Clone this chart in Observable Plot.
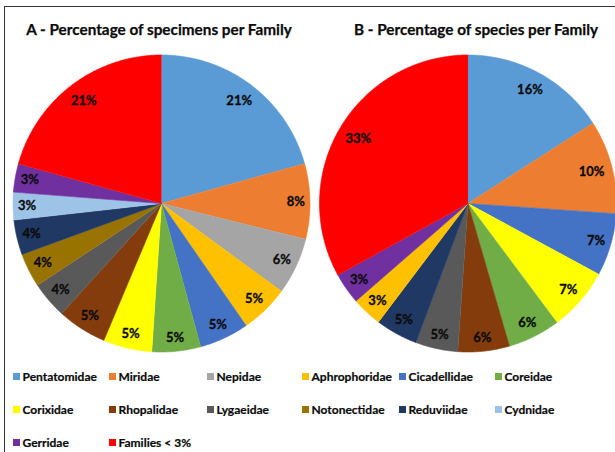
<!DOCTYPE html>
<html><head><meta charset="utf-8">
<script src="https://cdn.jsdelivr.net/npm/d3@7"></script>
<script src="https://cdn.jsdelivr.net/npm/@observablehq/plot@0.6"></script>
<style>
body{margin:0;background:#fff;font-family:Lato,"Open Sans",sans-serif;width:615px;height:452px;overflow:hidden;position:relative}
#frame{position:absolute;left:4px;top:6px;width:640px;height:470px;border-top:1.5px solid #333;border-left:1.5px solid #333;}
.title{position:absolute;top:20px;font-weight:bold;font-size:15.3px;line-height:19px;color:#0a0a0a;white-space:nowrap;transform:translateX(-50%);-webkit-text-stroke:0.25px #0a0a0a}
#chart{position:absolute;left:0;top:45px}
#legend{position:absolute;left:13px;top:369px;display:grid;grid-template-columns:96px 98px 95px 97px 96px 100px;grid-auto-rows:33px;}
.item{display:flex;align-items:center;height:14px;font-weight:bold;font-size:12px;color:#0a0a0a;white-space:nowrap;-webkit-text-stroke:0.2px #0a0a0a}
.sw{width:7px;height:7px;margin-right:2.5px;flex:none}
</style></head><body>
<div id="frame"></div>
<div id="tA" class="title" style="left:159px"></div>
<div id="tB" class="title" style="left:476px"></div>
<div id="chart"></div>
<div id="legend"></div>
<script>
const families = ["Pentatomidae","Miridae","Nepidae","Aphrophoridae","Cicadellidae","Coreidae","Corixidae","Rhopalidae","Lygaeidae","Notonectidae","Reduviidae","Cydnidae","Gerridae","Families < 3%"];
const colors = ["#5B9BD5","#ED7D31","#A5A5A5","#FFC000","#4472C4","#70AD47","#FFFF00","#843C0C","#595959","#997300","#203864","#9DC3E6","#7030A0","#FF0000"];
const specimenFamilies = ["Pentatomidae","Miridae","Nepidae","Aphrophoridae","Cicadellidae","Coreidae","Corixidae","Rhopalidae","Lygaeidae","Notonectidae","Reduviidae","Cydnidae","Gerridae","Families < 3%"];
const specimenPct = [20.7,8.2,6.2,5.3,5.4,5.3,5.3,5.4,4.0,3.7,3.8,3.0,3.1,20.7];
const speciesFamilies = ["Pentatomidae","Miridae","Cicadellidae","Corixidae","Coreidae","Rhopalidae","Lygaeidae","Reduviidae","Aphrophoridae","Gerridae","Families < 3%"];
const speciesPct = [15.9,10.2,6.8,6.9,5.7,5.6,4.6,4.6,3.3,3.4,33.0];
const titles = ["A - Percentage of specimens per Family","B - Percentage of species per Family"];

document.getElementById("tA").textContent = titles[0];
document.getElementById("tB").textContent = titles[1];

const W = 615, H = 315, R = 148.5, CY = 158;
const centers = [161, 467.5];
const pts = [], labels = [];
function addPie(fams, vals, cx, id) {
  const arcs = d3.pie().sort(null).value(d => d)(vals);
  arcs.forEach((a, i) => {
    const key = id + i, family = fams[i];
    pts.push({x: cx, y: CY, key, family});
    const n = Math.max(2, Math.ceil((a.endAngle - a.startAngle) / 0.01));
    for (let k = 0; k <= n; k++) {
      const t = a.startAngle + (a.endAngle - a.startAngle) * k / n;
      pts.push({x: cx + R * Math.sin(t), y: CY - R * Math.cos(t), key, family});
    }
    const mid = (a.startAngle + a.endAngle) / 2;
    const text = Math.round(vals[i]) + "%";
    const long = text.length >= 3;
    const off = 8 + (long ? 2 : 0) + (long ? 10 : 6) * Math.abs(Math.sin(mid)) + 5 * Math.abs(Math.cos(mid));
    const rl = R - off;
    labels.push({x: cx + rl * Math.sin(mid), y: CY - rl * Math.cos(mid), text});
  });
}
addPie(specimenFamilies, specimenPct, centers[0], "A");
addPie(speciesFamilies, speciesPct, centers[1], "B");

const chart = Plot.plot({
  width: W, height: H, margin: 0,
  style: {background: "transparent", fontFamily: "Lato, sans-serif"},
  x: {domain: [0, W], range: [0, W], axis: null},
  y: {domain: [0, H], range: [0, H], axis: null},
  color: {domain: families, range: colors},
  marks: [
    Plot.line(pts, {x: "x", y: "y", z: "key", fill: "family", stroke: "family", strokeWidth: 0.6}),
    Plot.text(labels, {x: "x", y: "y", text: "text", fontSize: 13, fontWeight: "bold", fill: "#0a0a0a", stroke: "#0a0a0a", strokeWidth: 0.3})
  ]
});
document.getElementById("chart").appendChild(chart);

const legend = document.getElementById("legend");
families.forEach((f, i) => {
  const it = document.createElement("div");
  it.className = "item";
  const sw = document.createElement("span");
  sw.className = "sw";
  sw.style.background = colors[i];
  it.appendChild(sw);
  it.appendChild(document.createTextNode(f));
  legend.appendChild(it);
});
</script>
</body></html>
